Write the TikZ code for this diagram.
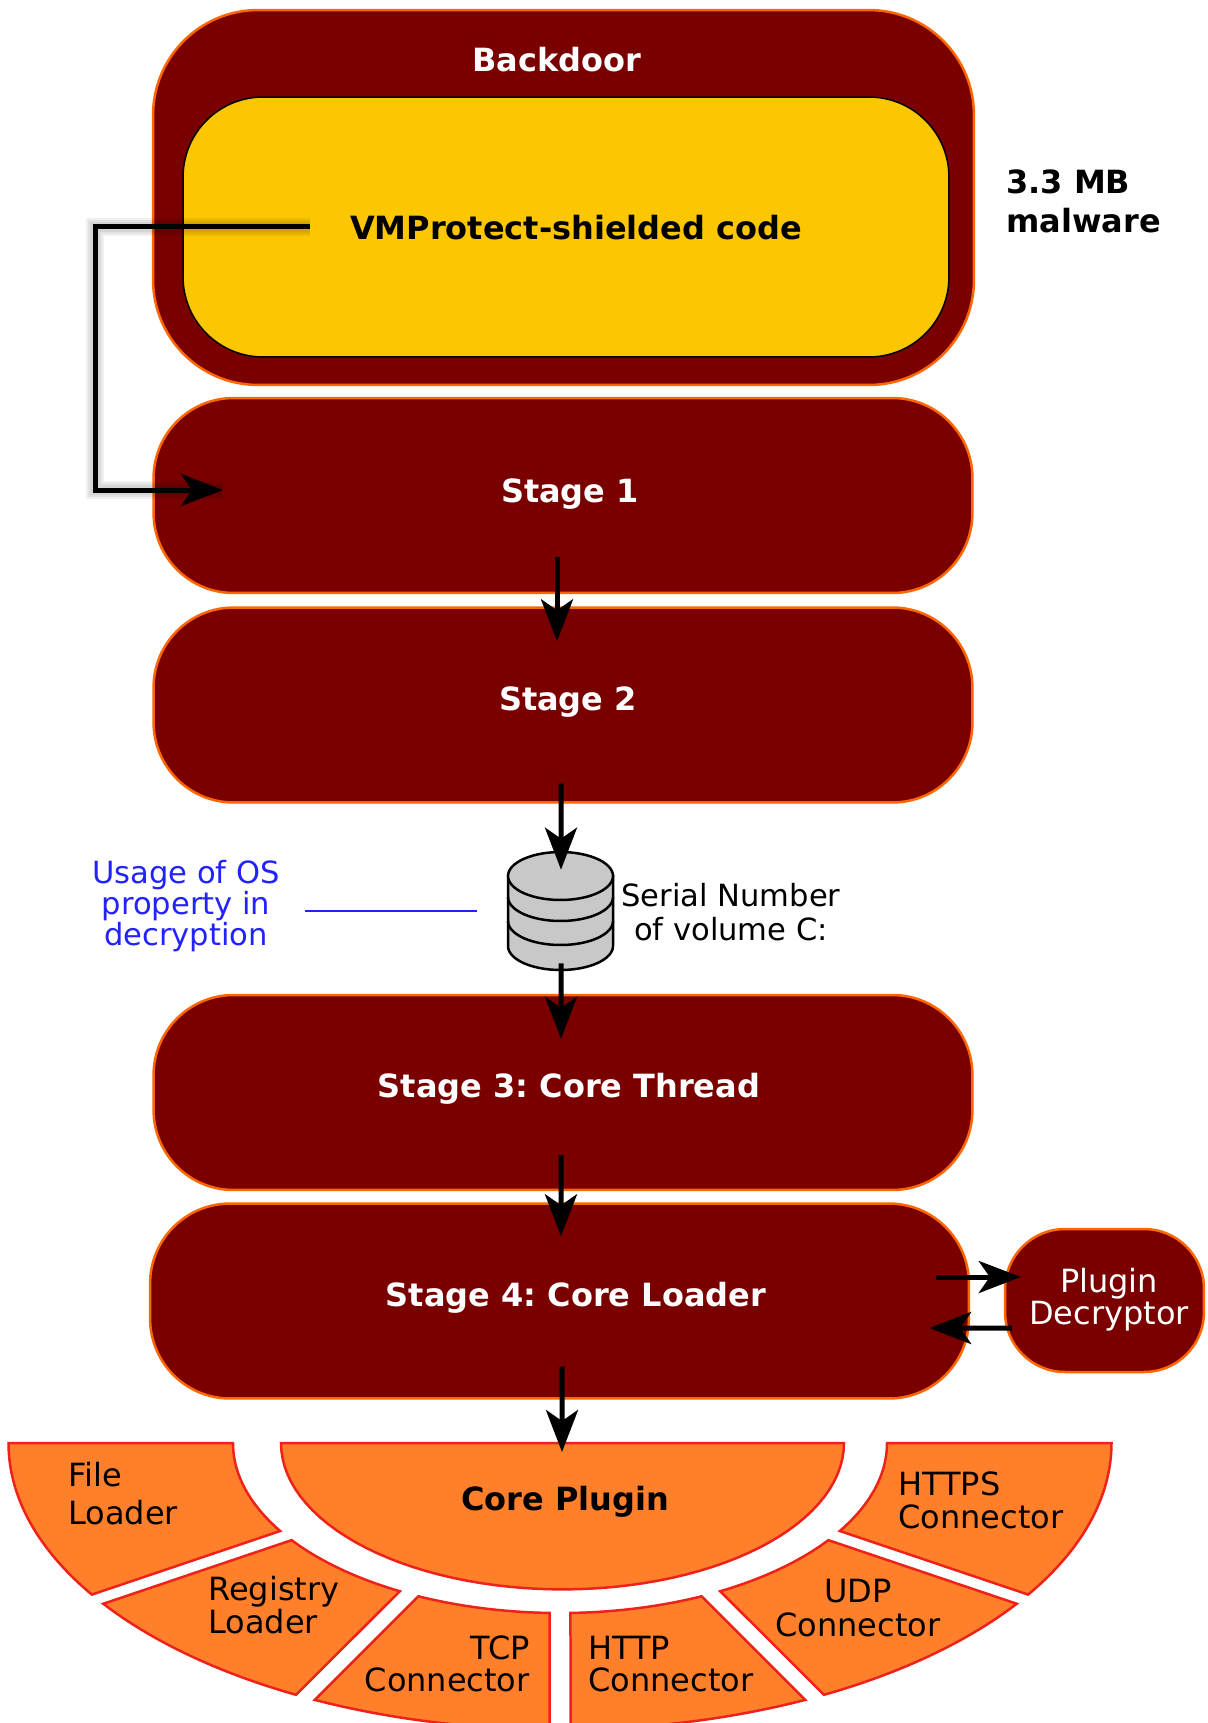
\documentclass[tikz,border=0pt]{standalone}
\usepackage{fontspec}
\setmainfont{DejaVu Sans}
\frenchspacing
\usetikzlibrary{calc,arrows.meta}

\definecolor{wine}{RGB}{122,0,0}
\definecolor{rim}{RGB}{255,102,0}
\definecolor{shield}{RGB}{252,198,0}
\definecolor{plugfill}{RGB}{255,127,42}
\definecolor{plugrim}{RGB}{238,34,24}
\definecolor{note}{RGB}{34,34,255}
\definecolor{disk}{RGB}{200,200,200}

\tikzset{
  stagebox/.style={draw=rim, fill=wine, line width=0.05cm, rounded corners=1.6cm,
    minimum width=16.38cm, minimum height=3.9cm, inner sep=0pt},
  stagetext/.style={text=white, inner sep=0pt, font=\bfseries\fontsize{18.2}{21}\selectfont},
  boldtext/.style={inner sep=0pt, font=\bfseries\fontsize{18.2}{21}\selectfont},
  flow/.style={-{Stealth[length=0.84cm, width=0.64cm, inset=0.22cm]}, line width=0.1cm},
  segment/.style={fill=plugfill, draw=plugrim, line width=0.05cm},
  seglabel/.style={inner sep=0pt, font=\fontsize{18.2}{18.8}\selectfont},
}

\begin{document}
\begin{tikzpicture}[x=0.02cm, y=-0.02cm]
    \def\cx{560}      % Centre of the plugin ring
    \def\cy{1443}
    \def\corex{562.5} % Centre of the core plugin
    \def\rcore{281.5} % Radius of the core plugin
    \def\rin{327}     % Inner radius of the ring
    \def\rout{551.5}  % Outer radius of the ring
    \def\squash{0.52} % Vertical squeeze of the ring

    \useasboundingbox (0,0) rectangle (1207,1723);

    % Backdoor with the shielded code
    \node[stagebox, rounded corners=2.1cm, minimum width=16.42cm, minimum height=7.5cm] (backdoor) at (563.5,197.5) {};
    \node[stagetext] (backdoortext) at (557,60) {Backdoor};
    \node[draw=black, fill=shield, line width=0.03cm, rounded corners=1.6cm,
      minimum width=15.32cm, minimum height=5.2cm, inner sep=0pt] (shielded) at (566,227) {};
    \node[boldtext] (vmtext) at (576,228) {VMProtect-shielded code};
    \node[boldtext, anchor=west, align=left, font=\bfseries\fontsize{18.2}{22.2}\selectfont] (size) at (1006,201) {3.3 MB\\malware};

    % Stages
    \node[stagebox] (stage1) at (563,495.5) {};
    \node[stagetext] (stage1text) at (570,494) {Stage 1};
    \node[stagebox] (stage2) at (563,705) {};
    \node[stagetext] (stage2text) at (568,702) {Stage 2};
    \node[stagebox] (stage3) at (563,1092.5) {};
    \node[stagetext] (stage3text) at (569,1089) {Stage 3: Core Thread};
    \node[stagebox] (stage4) at (559.5,1301) {};
    \node[stagetext] (stage4text) at (576,1298) {Stage 4: Core Loader};
    \node[stagebox, rounded corners=1.2cm, minimum width=3.98cm, minimum height=2.86cm] (plugin) at (1104.5,1300.5) {};
    \node[stagetext, font=\fontsize{18.2}{18.2}\selectfont, align=center] (plugintext) at (1109,1300) {Plugin\\Decryptor};

    % Volume serial number
    \filldraw[fill=disk, line width=0.05cm] (508,876) -- (508,946)
      -- plot[domain=180:0, samples=40] ({560.5+52.5*cos(\x)},{946+24*sin(\x)}) -- (613,876) -- cycle;
    \filldraw[fill=disk, line width=0.05cm] plot[domain=0:360, samples=60] ({560.5+52.5*cos(\x)},{876+24*sin(\x)}) -- cycle;
    \draw[line width=0.05cm] plot[domain=180:0, samples=40] ({560.5+52.5*cos(\x)},{897+24*sin(\x)});
    \draw[line width=0.05cm] plot[domain=180:0, samples=40] ({560.5+52.5*cos(\x)},{921+24*sin(\x)});
    \node[minimum width=2.1cm, minimum height=2.36cm, inner sep=0pt] (db) at (560.5,911) {};
    \node[inner sep=0pt, align=center, font=\fontsize{17.4}{19.4}\selectfont] (serial) at (731,912) {Serial Number\\of volume C:};
    \node[inner sep=0pt, align=center, text=note, font=\fontsize{17.4}{17.6}\selectfont] (usage) at (186,906) {Usage of OS\\property in\\decryption};
    \draw[note, line width=0.05cm, shorten <=0.5cm, shorten >=0.62cm] (usage.east |- db.west) -- (db.west);

    % Plugin ring
    \begin{scope}
        \clip (0,0) rectangle (1207,1723);
        \filldraw[segment] plot[domain=0:180, samples=60] ({\corex+\rcore*cos(\x)},{\cy+\squash*\rcore*sin(\x)}) -- cycle;
        \foreach \sa/\sb/\ga/\gb in {0/33/0/10.5, 33/62.5/10.5/10.5, 62.5/90/10.5/10.5,
                                     90/117.5/10.5/10.5, 117.5/147/10.5/10.5, 147/180/10.5/0}{
            \pgfmathsetmacro\outa{\sa+asin(\ga/\rout)}
            \pgfmathsetmacro\outb{\sb-asin(\gb/\rout)}
            \pgfmathsetmacro\ina{\sb-asin(\gb/\rin)}
            \pgfmathsetmacro\inb{\sa+asin(\ga/\rin)}
            \filldraw[segment] plot[domain=\outa:\outb, samples=40] ({\cx+\rout*cos(\x)},{\cy+\squash*\rout*sin(\x)})
              -- plot[domain=\ina:\inb, samples=40] ({\cx+\rin*cos(\x)},{\cy+\squash*\rin*sin(\x)}) -- cycle;
        }
    \end{scope}
    \coordinate (coretop) at (565,1443);
    \node[boldtext] (coretext) at (565,1502) {Core Plugin};
    \node[seglabel, anchor=west, align=left, font=\fontsize{18.2}{21.6}\selectfont] (fileload) at (68,1494) {File\\Loader};
    \node[seglabel, anchor=west, align=left, font=\fontsize{18.2}{17.6}\selectfont] (regload) at (208,1605) {Registry\\Loader};
    \node[seglabel, anchor=east, align=right, font=\fontsize{18.2}{18.2}\selectfont] (tcp) at (530,1664) {TCP\\Connector};
    \node[seglabel, anchor=west, align=left, font=\fontsize{18.2}{18.2}\selectfont] (http) at (588,1664) {HTTP\\Connector};
    \node[seglabel, align=center, font=\fontsize{18.2}{19.4}\selectfont] (udp) at (858,1608) {UDP\\Connector};
    \node[seglabel, anchor=west, align=left] (https) at (898,1500) {HTTPS\\Connector};

    % Connectors
    \coordinate (tap) at (310,227);
    \coordinate (entry) at (223,490);
    \foreach \w in {0.36,0.28,0.2}
        \draw[line width=\w cm, black, opacity=0.06] (tap) -- (95,227) |- (entry);
    \draw[flow] (tap) -- (95,227) |- (entry);
    \draw[flow] ($(stage1.south)+(-6,-37)$) -- ($(stage2.north)+(-6,35)$);
    \draw[flow] ($(stage2.south)+(-2,-20)$) -- ($(db.north)+(0.5,18)$);
    \draw[flow] ($(db.south)+(0.5,-7)$) -- ($(stage3.north)+(-2,45)$);
    \draw[flow] ($(stage3.south)+(-2,-36)$) -- ($(stage4.north)+(1.5,34)$);
    \draw[flow] ($(stage4.south)+(2.5,-33)$) -- ($(coretop)+(-3,9)$);
    \draw[flow] ($(stage4.east)+(-34,-24)$) -- ($(plugin.west)+(17,-23.5)$);
    \draw[flow] ($(plugin.west)+(8,27.5)$) -- ($(stage4.east)+(-41,27)$);
\end{tikzpicture}
\end{document}
